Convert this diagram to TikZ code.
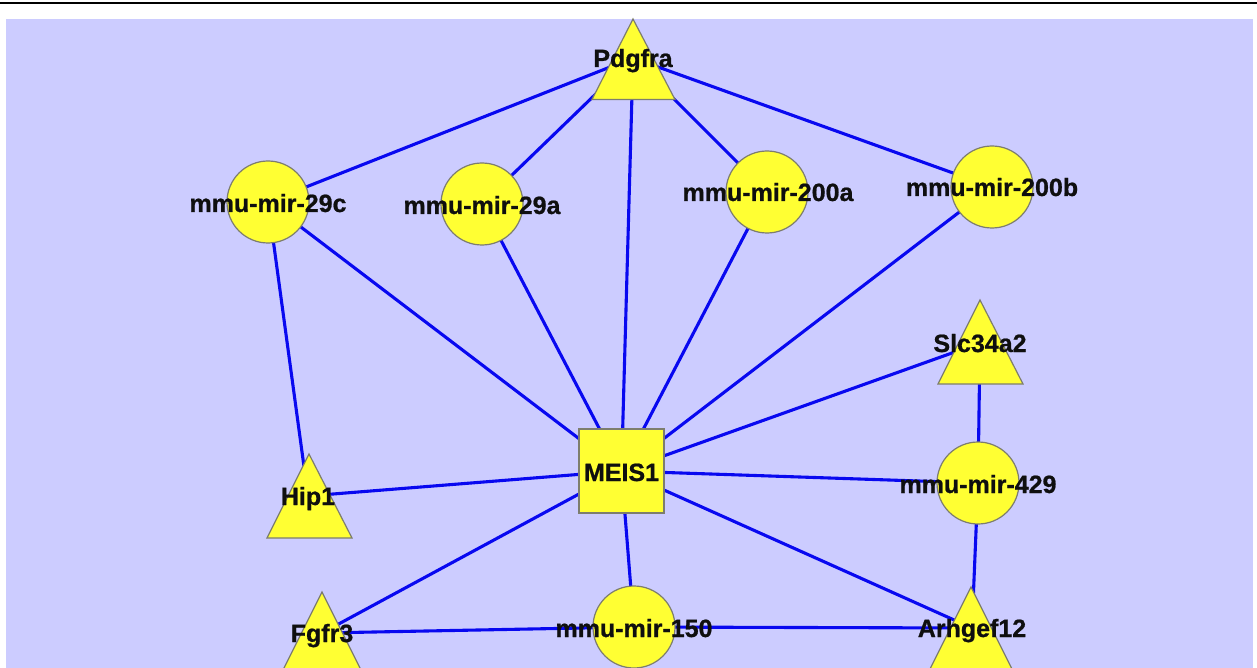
\documentclass[tikz,border=0pt]{standalone}
\usepackage{fontspec}
\setmainfont{Liberation Sans}
\usetikzlibrary{backgrounds}
\definecolor{bgl}{RGB}{204,204,255}
\definecolor{ylw}{RGB}{255,255,51}
\definecolor{bord}{RGB}{125,125,110}
\definecolor{edg}{RGB}{8,8,240}
\definecolor{txt}{RGB}{15,15,15}
\tikzset{
 lbl/.style={font=\bfseries\fontsize{25}{25}\selectfont\addfontfeature{FakeBold=0.8}, text=txt, inner sep=0pt, text height=18pt, text depth=0pt},
 circ/.style={circle, fill=ylw, draw=bord, line width=1.2pt, minimum size=82pt, inner sep=0pt},
 sqnode/.style={rectangle, fill=ylw, draw=bord, line width=1.2pt, minimum width=85pt, minimum height=84pt, inner sep=0pt},
 trishape/.style={fill=ylw, draw=bord, line width=1.2pt, line join=miter},
 link/.style={draw=edg, line width=3.1pt}
}
\begin{document}
\begin{tikzpicture}[x=1pt,y=-1pt]
\useasboundingbox (0,0) rectangle (1257,668);
\draw[line width=2pt] (0,2.7) -- (1257,2.7);
\begin{scope}[on background layer]
\fill[bgl] (6,19) rectangle (1253,668);
\end{scope}
% circles
\node[circ] (c29c) at (268,202) {};
\node[circ] (c29a) at (482,204) {};
\node[circ] (c200a) at (767,192) {};
\node[circ] (c200b) at (992,187) {};
\node[circ] (c429) at (978,483) {};
\node[circ] (c150) at (634,627) {};
% square
\node[sqnode] (meis) at (621.5,471) {};
% triangles
\filldraw[trishape] (592,99.5) -- (675,99.5) -- (633,19) -- cycle;
\filldraw[trishape] (938,384) -- (1023,384) -- (980,300) -- cycle;
\filldraw[trishape] (267,538) -- (352,538) -- (309,454) -- cycle;
\filldraw[trishape] (280,676) -- (364,676) -- (322,592) -- cycle;
\filldraw[trishape] (929,671) -- (1013,671) -- (971,587) -- cycle;
% labels
\node[lbl] (pdg) at (633,58) {Pdgfra};
\node[lbl] (slc) at (980,343) {Slc34a2};
\node[lbl] (hip) at (308,496) {Hip1};
\node[lbl] (fgf) at (322,633) {Fgfr3};
\node[lbl] (arh) at (972,628) {Arhgef12};
\node[lbl] (l29c) at (268,203) {mmu-mir-29c};
\node[lbl] (l29a) at (482,205) {mmu-mir-29a};
\node[lbl] (l200a) at (768,192) {mmu-mir-200a};
\node[lbl] (l200b) at (992,187) {mmu-mir-200b};
\node[lbl] (l429) at (978,484) {mmu-mir-429};
\node[lbl] (l150) at (634,628) {mmu-mir-150};
\node[lbl] (lmeis) at (621.5,472) {MEIS1};
% edges
\begin{scope}[on background layer]
\draw[link] (pdg.center) -- (c29c.center);
\draw[link] (pdg.center) -- (c29a.center);
\draw[link] (pdg.center) -- (meis.center);
\draw[link] (pdg.center) -- (c200a.center);
\draw[link] (pdg.center) -- (c200b.center);
\draw[link] (c29c.center) -- (hip.center);
\draw[link] (c29c.center) -- (meis.center);
\draw[link] (c29a.center) -- (meis.center);
\draw[link] (c200a.center) -- (meis.center);
\draw[link] (c200b.center) -- (meis.center);
\draw[link] (meis.center) -- (slc.center);
\draw[link] (meis.center) -- (hip.center);
\draw[link] (meis.center) -- (c429.center);
\draw[link] (meis.center) -- (fgf.center);
\draw[link] (meis.center) -- (c150.center);
\draw[link] (meis.center) -- (arh.center);
\draw[link] (slc.center) -- (c429.center);
\draw[link] (c429.center) -- (arh.center);
\draw[link] (fgf.center) -- (c150.center);
\draw[link] (c150.center) -- (arh.center);
\end{scope}
\end{tikzpicture}
\end{document}
